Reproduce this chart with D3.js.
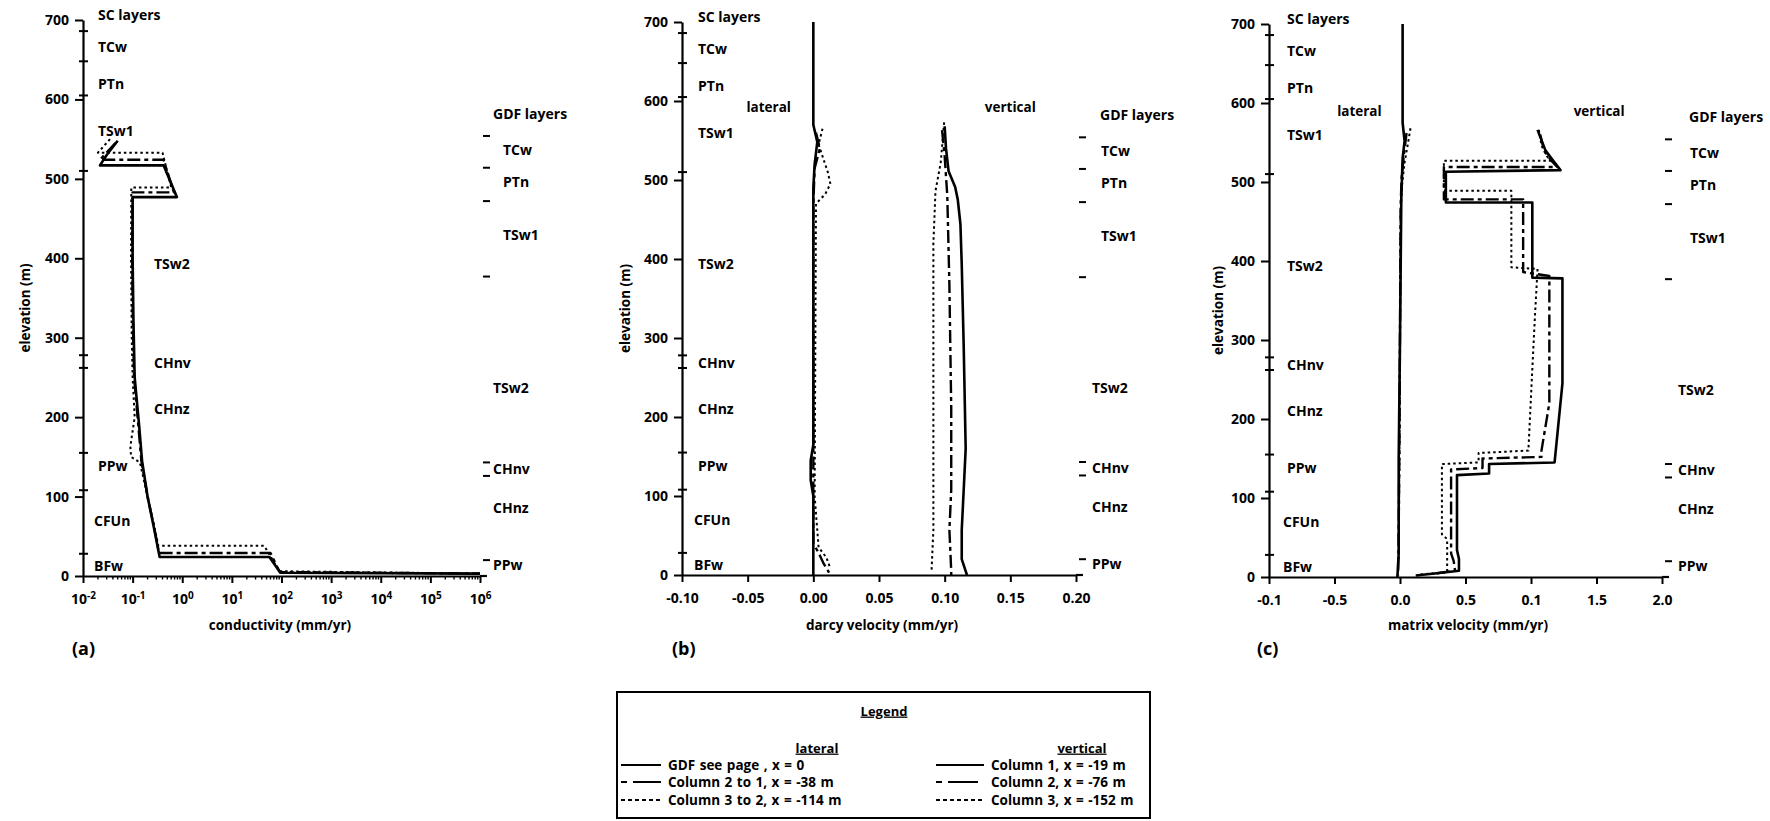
<!DOCTYPE html>
<html>
<head>
<meta charset="utf-8">
<script src="https://cdn.jsdelivr.net/npm/d3@7"></script>
<style>
  body { margin: 0; background: #fff; }
  svg text { font-family: "Open Sans", "DejaVu Sans", sans-serif; font-weight: 700; fill: #000; }
</style>
</head>
<body>
<svg id="chart" width="1770" height="821"></svg>
<script>
// ---------- shared elevation axis ----------
const elevTicks = [0, 100, 200, 300, 400, 500, 600, 700];

// SC (site-scale) stratigraphy along the left axis
const scLayerBounds = [686, 648, 605, 510, 278, 262, 155, 108, 28];
const scLayerNames = ["SC layers", "TCw", "PTn", "TSw1", "TSw2", "CHnv", "CHnz", "PPw", "CFUn", "BFw"];
const scLayerLabelElev = [706, 666, 619, 560, 393, 268, 210, 138, 69, 13];

// GDF stratigraphy along the right edge
const gdfLayerBounds = [554, 514, 472, 377, 143, 126, 20];
const gdfLayerNames = ["GDF layers", "TCw", "PTn", "TSw1", "TSw2", "CHnv", "CHnz", "PPw"];
const gdfLayerLabelElev = [582, 536, 496, 429, 236, 135, 86, 14];

// ---------- (a) conductivity, mm/yr : [K, elevation] ----------
const condTickValues = [1e-2, 1e-1, 1e0, 1e1, 1e2, 1e3, 1e4, 1e5, 1e6];
const condTickExponents = ["-2", "-1", "0", "1", "2", "3", "4", "5", "6"];
const condCol1 = [[0.05,548],[0.03,530],[0.022,517],[0.42,517],[0.78,477],[0.1,477],[0.1,400],[0.104,320],[0.11,250],[0.135,190],[0.155,145],[0.2,100],[0.27,60],[0.35,24],[57,24],[95,4],[1e6,3]];
const condCol2 = [[0.045,545],[0.022,524],[0.42,524],[0.68,483],[0.1,483],[0.098,400],[0.101,320],[0.107,250],[0.13,190],[0.15,145],[0.2,100],[0.27,62],[0.34,29],[60,29],[92,5],[1e6,3]];
const condCol3 = [[0.035,550],[0.02,533],[0.4,533],[0.6,489],[0.094,489],[0.093,400],[0.096,300],[0.1,250],[0.11,200],[0.09,163],[0.093,150],[0.14,143],[0.2,100],[0.27,64],[0.33,38],[45,38],[90,6],[1e6,3]];

// ---------- (b) darcy velocity, mm/yr : [v, elevation] ----------
const darcyTickValues = [-0.10, -0.05, 0.00, 0.05, 0.10, 0.15, 0.20];
const darcyTickLabels = ["-0.10", "-0.05", "0.00", "0.05", "0.10", "0.15", "0.20"];
const darcyLat1 = [[0,700],[0,570],[0.003,548],[0.001,520],[0,490],[0,165],[-0.002,145],[-0.002,120],[0,100],[0,0]];
const darcyLat2 = [[0.002,560],[0.005,540],[0.001,515],[0,470],[0,40],[0.004,28],[0.008,14],[0.012,3]];
const darcyLat3 = [[0.007,565],[0.004,545],[0.008,525],[0.011,510],[0.013,495],[0.009,482],[0.002,470],[0.001,100],[0.004,35],[0.01,22],[0.013,8]];
const darcyVert1 = [[0.1,568],[0.101,540],[0.103,511],[0.108,491],[0.11,475],[0.112,444],[0.113,393],[0.1145,289],[0.116,160],[0.1145,108],[0.113,57],[0.113,20],[0.116,5],[0.117,0]];
const darcyVert2 = [[0.098,563],[0.1,530],[0.102,480],[0.1036,367],[0.105,212],[0.105,108],[0.1036,57],[0.105,5],[0.105,0]];
const darcyVert3 = [[0.0996,573],[0.097,522],[0.093,486],[0.0914,419],[0.0914,263],[0.0914,57],[0.09,5]];

// ---------- (c) matrix velocity, mm/yr : [v, elevation] ----------
const matrixTickValues = [-1.0, -0.5, 0.0, 0.5, 1.0, 1.5, 2.0];
const matrixTickLabels = ["-0.1", "-0.5", "0.0", "0.5", "0.1", "1.5", "2.0"];
const matrixLat1 = [[0.02,700],[0.02,575],[0.035,552],[0.02,530],[0.01,480],[0.0,300],[-0.01,150],[-0.01,30],[-0.02,0]];
const matrixLat2 = [[0.05,562],[0.03,535],[0.012,505],[0.005,470],[-0.005,150],[-0.012,25],[-0.015,2]];
const matrixLat3 = [[0.08,568],[0.06,548],[0.035,525],[0.015,495],[0.005,460],[-0.005,140],[-0.01,20]];
const matrixVert1 = [[1.05,566],[1.11,540],[1.17,527],[1.225,515],[0.35,513],[0.35,474],[1.01,474],[1.01,379],[1.24,378],[1.24,245],[1.18,145],[0.68,143],[0.68,131],[0.435,129],[0.435,34],[0.45,23],[0.45,8],[0.3,5],[0.12,2]];
const matrixVert2 = [[1.07,560],[1.1,540],[1.15,528],[1.2,519],[0.335,519],[0.335,478],[0.94,478],[0.94,386],[1.14,381],[1.14,220],[1.08,160],[1.08,152],[0.63,150],[0.63,138],[0.39,136],[0.39,30],[0.41,20],[0.42,8],[0.25,4]];
const matrixVert3 = [[1.06,566],[1.08,546],[1.12,533],[1.15,527],[0.335,527],[0.335,489],[0.85,489],[0.85,392],[1.05,390],[1.03,330],[1.01,263],[0.98,160],[0.6,157],[0.6,145],[0.32,143],[0.32,54],[0.36,48],[0.36,6],[0.15,3]];

// ---------- legend text ----------
const legendLateral = ["GDF see page , x = 0", "Column 2 to 1, x = -38 m", "Column 3 to 2, x = -114 m"];
const legendVertical = ["Column 1, x = -19 m", "Column 2, x = -76 m", "Column 3, x = -152 m"];

// line styles: column 1 solid, column 2 long-short dash, column 3 dotted
const lineStyles = [
  { width: 2.6, dash: null },
  { width: 2.4, dash: "13,4,4,4" },
  { width: 2.0, dash: "2.5,3" }
];

const svg = d3.select("#chart");

const panels = [
  {
    letter: "(a)", x0: 83, x1: 480, yBottom: 576, yTop: 20, log: true,
    domain: [1e-2, 1e6], tickValues: condTickValues,
    xTitle: "conductivity (mm/yr)", xTitleX: 280, yTitleX: 25, letterX: 72,
    series: [condCol1, condCol2, condCol3],
    scOffset: 15, scShift: { "TSw2": 71, "CHnv": 71, "CHnz": 71, "TSw1": 15 },
    gdfHead: 13, gdfUpper: 23, gdfLower: 13, notes: []
  },
  {
    letter: "(b)", x0: 682, x1: 1076, yBottom: 575, yTop: 22, log: false,
    domain: [-0.10, 0.20], tickValues: darcyTickValues, tickLabels: darcyTickLabels,
    xTitle: "darcy velocity (mm/yr)", xTitleX: 882, yTitleX: 625, letterX: 672,
    series: [darcyLat1, darcyLat2, darcyLat3, darcyVert1, darcyVert2, darcyVert3],
    scOffset: 16, scShift: {},
    gdfHead: 24, gdfUpper: 25, gdfLower: 16,
    notes: [{ text: "lateral", v: -0.034, e: 592 }, { text: "vertical", v: 0.15, e: 592 }]
  },
  {
    letter: "(c)", x0: 1269, x1: 1662, yBottom: 577, yTop: 24, log: false,
    domain: [-1.0, 2.0], tickValues: matrixTickValues, tickLabels: matrixTickLabels,
    xTitle: "matrix velocity (mm/yr)", xTitleX: 1468, yTitleX: 1218, letterX: 1257,
    series: [matrixLat1, matrixLat2, matrixLat3, matrixVert1, matrixVert2, matrixVert3],
    scOffset: 18, scShift: {},
    gdfHead: 27, gdfUpper: 28, gdfLower: 16,
    notes: [{ text: "lateral", v: -0.31, e: 590 }, { text: "vertical", v: 1.52, e: 590 }]
  }
];

function styleAxisGroup(g) {
  g.attr("font-family", null).attr("font-size", null);
  g.select(".domain").attr("stroke", "#000").attr("stroke-width", 2.2);
  g.selectAll(".tick line").attr("stroke", "#000").attr("stroke-width", 2);
  g.selectAll(".tick text").attr("font-size", 14).attr("fill", "#000");
}

panels.forEach(p => {
  const x = (p.log ? d3.scaleLog() : d3.scaleLinear()).domain(p.domain).range([p.x0, p.x1]);
  const y = d3.scaleLinear().domain([0, 700]).range([p.yBottom, p.yTop]);
  const g = svg.append("g");

  // elevation axis
  const gy = g.append("g")
    .attr("transform", `translate(${p.x0},0)`)
    .call(d3.axisLeft(y).tickValues(elevTicks).tickSize(8).tickSizeOuter(0).tickPadding(6).tickFormat(d3.format("d")));
  styleAxisGroup(gy);

  // x axis
  const xAxis = d3.axisBottom(x).tickValues(p.tickValues).tickSize(7).tickSizeOuter(0).tickPadding(11);
  if (p.log) xAxis.tickFormat(() => "");
  else xAxis.tickFormat((d, i) => p.tickLabels[i]);
  const gx = g.append("g")
    .attr("transform", `translate(0,${p.yBottom})`)
    .call(xAxis);
  styleAxisGroup(gx);

  // short overrun of the baseline past the last tick
  g.append("line")
    .attr("x1", p.x1).attr("x2", p.x1 + 7)
    .attr("y1", p.yBottom).attr("y2", p.yBottom)
    .attr("stroke", "#000").attr("stroke-width", 2.2);

  if (p.log) {
    // powers of ten with superscript exponents
    gx.selectAll(".tick text").each(function (d, i) {
      const t = d3.select(this).text(null);
      t.append("tspan").text("10");
      t.append("tspan").attr("dy", "-0.45em").attr("font-size", 10).text(condTickExponents[i]);
    });
    // minor log ticks
    const minor = [];
    for (let e = -2; e < 6; e++) for (let k = 2; k <= 9; k++) minor.push(k * Math.pow(10, e));
    g.append("g").selectAll("line").data(minor).join("line")
      .attr("x1", d => x(d)).attr("x2", d => x(d))
      .attr("y1", p.yBottom).attr("y2", p.yBottom + 3.5)
      .attr("stroke", "#000").attr("stroke-width", 1.4);
  }

  // SC layer boundaries crossing the elevation axis
  g.append("g").selectAll("line").data(scLayerBounds).join("line")
    .attr("x1", p.x0 - 4).attr("x2", p.x0 + 5)
    .attr("y1", d => y(d)).attr("y2", d => y(d))
    .attr("stroke", "#000").attr("stroke-width", 2);

  // SC layer names
  g.append("g").selectAll("text").data(scLayerNames).join("text")
    .attr("x", d => p.x0 + (p.scShift[d] !== undefined ? p.scShift[d] : (d === "CFUn" || d === "BFw" ? p.scOffset - 4 : p.scOffset)))
    .attr("y", (d, i) => y(scLayerLabelElev[i]))
    .attr("dy", "0.35em")
    .attr("font-size", 14)
    .text(d => d);

  // GDF layer boundaries and names on the right
  g.append("g").selectAll("line").data(gdfLayerBounds).join("line")
    .attr("x1", p.x1 + 3).attr("x2", p.x1 + 10)
    .attr("y1", d => y(d)).attr("y2", d => y(d))
    .attr("stroke", "#000").attr("stroke-width", 2);
  g.append("g").selectAll("text").data(gdfLayerNames).join("text")
    .attr("x", (d, i) => p.x1 + (i === 0 ? p.gdfHead : (i <= 3 ? p.gdfUpper : p.gdfLower)))
    .attr("y", (d, i) => y(gdfLayerLabelElev[i]))
    .attr("dy", "0.35em")
    .attr("font-size", 14)
    .text(d => d);

  // profiles
  const line = d3.line().x(d => x(d[0])).y(d => y(d[1]));
  p.series.forEach((s, i) => {
    const st = lineStyles[i % 3];
    g.append("path")
      .attr("d", line(s))
      .attr("fill", "none")
      .attr("stroke", "#000")
      .attr("stroke-width", st.width)
      .attr("stroke-linejoin", "round")
      .attr("stroke-dasharray", st.dash);
  });

  // in-plot annotations
  g.append("g").selectAll("text").data(p.notes).join("text")
    .attr("x", d => x(d.v)).attr("y", d => y(d.e))
    .attr("dy", "0.35em").attr("text-anchor", "middle").attr("font-size", 13.5)
    .text(d => d.text);

  // axis titles
  g.append("text")
    .attr("x", p.xTitleX).attr("y", 625).attr("dy", "0.35em")
    .attr("text-anchor", "middle").attr("font-size", 13.5)
    .text(p.xTitle);
  g.append("text")
    .attr("transform", `translate(${p.yTitleX},${(p.yBottom + p.yTop) / 2 + 10}) rotate(-90)`)
    .attr("dy", "0.35em").attr("text-anchor", "middle").attr("font-size", 13.5)
    .text("elevation (m)");

  // panel letter
  g.append("text")
    .attr("x", p.letterX).attr("y", 649).attr("dy", "0.35em")
    .attr("font-size", 18).attr("font-weight", 600)
    .text(p.letter);
});

// ---------- legend ----------
const lg = svg.append("g");
const box = { x: 617, y: 692, w: 533, h: 126 };
lg.append("rect")
  .attr("x", box.x).attr("y", box.y).attr("width", box.w).attr("height", box.h)
  .attr("fill", "none").attr("stroke", "#000").attr("stroke-width", 2);
lg.append("text")
  .attr("x", 884).attr("y", 711).attr("dy", "0.35em")
  .attr("text-anchor", "middle").attr("font-size", 13)
  .attr("text-decoration", "underline").text("Legend");

const legendCols = [
  { head: "lateral", headX: 817, sx0: 621, sx1: 661, tx: 668, items: legendLateral },
  { head: "vertical", headX: 1082, sx0: 936, sx1: 984, tx: 991, items: legendVertical }
];
const legendRowY = [765, 782, 800];
const legendDash = [null, "6,6,30", "4,3"];
legendCols.forEach(c => {
  lg.append("text")
    .attr("x", c.headX).attr("y", 748).attr("dy", "0.35em")
    .attr("text-anchor", "middle").attr("font-size", 13)
    .attr("text-decoration", "underline").text(c.head);
  c.items.forEach((t, i) => {
    lg.append("line")
      .attr("x1", c.sx0).attr("x2", c.sx1)
      .attr("y1", legendRowY[i]).attr("y2", legendRowY[i])
      .attr("stroke", "#000").attr("stroke-width", 2.2)
      .attr("stroke-dasharray", legendDash[i]);
    lg.append("text")
      .attr("x", c.tx).attr("y", legendRowY[i]).attr("dy", "0.35em")
      .attr("font-size", 13.5).attr("word-spacing", 1).text(t);
  });
});
</script>
</body>
</html>
